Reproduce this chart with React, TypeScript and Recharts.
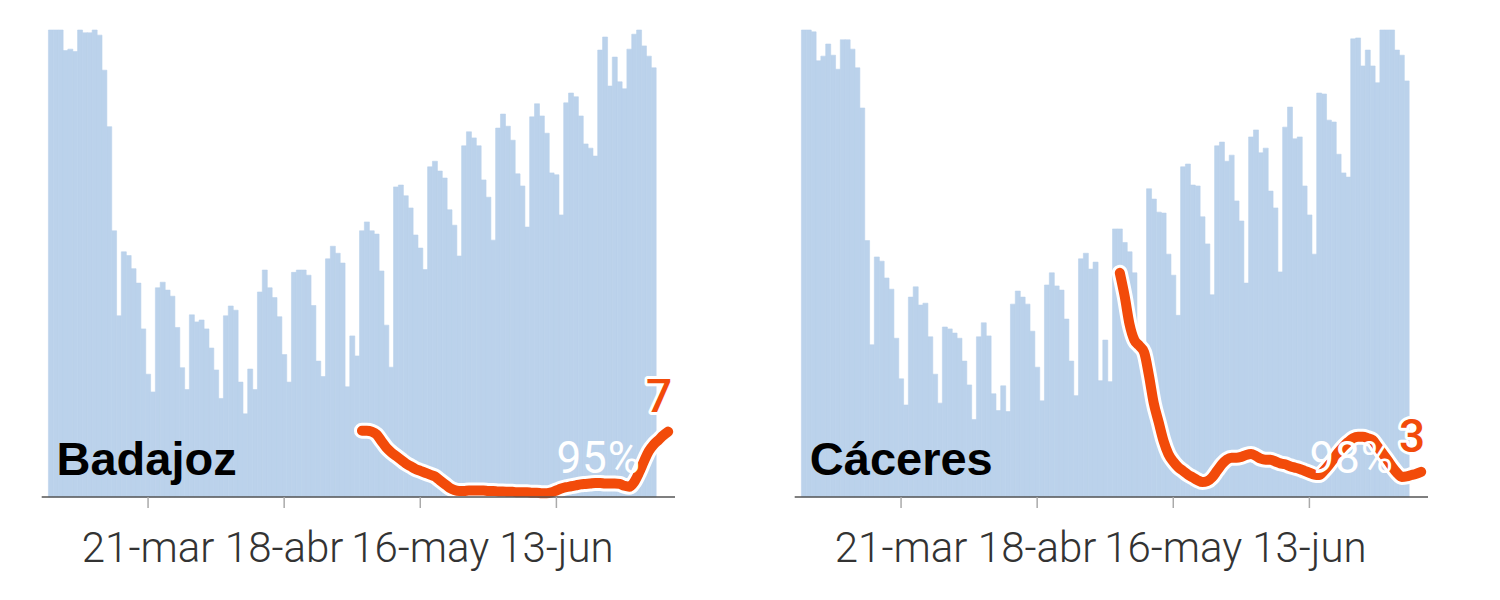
import React from 'react'
import { ComposedChart, Bar, Line, XAxis, YAxis } from 'recharts'

// day index 0 = 1-mar
const TICK_DAYS = [20, 48, 76, 104]
const TICK_LABELS = ['21-mar', '18-abr', '16-may', '13-jun']
const LAST_DAY = 127
const RECOVERY_DAY = 104

const PROVINCES = ['Badajoz', 'Cáceres']
const RECOVERY = ['95%', '98%']

// mobility, % of the reference level
const BADAJOZ_MOBILITY = [
  100, 100, 100, 95.6, 95.9, 95.4, 100, 99.4, 99.4, 100, 98.9, 91.4, 79.3, 57.0, 38.8,
  52.5, 51.7, 48.9, 45.8, 36.0, 26.3, 22.5, 44.8, 46.0, 44.3, 43.0, 36.3, 27.7, 23.0,
  39.0, 37.5, 37.9, 36.0, 31.9, 27.2, 21.1, 38.8, 40.9, 40.0, 24.6, 17.8, 27.4, 23.0,
  43.9, 48.6, 44.8, 42.7, 38.6, 30.5, 24.6, 48.1, 48.6, 48.6, 47.5, 41.0, 29.1, 25.8,
  51.0, 53.7, 52.2, 50.1, 23.6, 34.5, 30.2, 57.0, 58.9, 57.0, 56.3, 48.4, 36.8, 27.8,
  66.4, 66.8, 64.5, 61.9, 56.1, 53.3, 48.7, 70.7, 71.9, 69.8, 68.3, 61.5, 58.2, 51.6,
  75.2, 78.2, 76.9, 75.2, 67.9, 64.2, 55.0, 79.0, 82.0, 79.4, 76.4, 69.2, 66.6, 57.8,
  81.4, 84.2, 81.6, 77.9, 69.4, 69.0, 60.4, 84.4, 86.5, 85.7, 81.6, 75.6, 74.7, 73.0,
  95.7, 98.5, 88.0, 94.2, 88.9, 87.4, 95.9, 99.1, 100, 96.6, 94.4, 91.9,
]
const CACERES_MOBILITY = [
  100, 100, 99.6, 93.4, 94.4, 97.0, 94.6, 91.6, 97.9, 97.9, 95.9, 91.9, 83.3, 54.9, 32.6,
  51.4, 50.5, 46.9, 44.5, 34.0, 25.3, 19.7, 42.8, 45.0, 41.1, 41.5, 34.3, 26.3, 20.1,
  36.4, 36.0, 35.1, 34.0, 29.1, 24.0, 16.6, 34.3, 37.3, 34.5, 22.1, 18.5, 23.8, 18.3,
  41.3, 44.1, 42.8, 41.3, 35.5, 27.8, 20.6, 45.4, 48.0, 45.2, 44.3, 38.1, 29.1, 21.7,
  51.0, 52.2, 48.8, 50.3, 24.9, 33.6, 24.7, 57.4, 57.4, 54.5, 52.5, 48.0, 33.0, 28.0,
  66.0, 63.8, 61.0, 60.8, 52.0, 47.5, 38.9, 70.7, 71.3, 66.8, 66.6, 60.0, 54.2, 43.3,
  75.2, 76.0, 71.9, 73.2, 63.4, 59.1, 45.8, 77.1, 78.6, 73.7, 74.7, 65.5, 61.9, 48.2,
  79.2, 83.5, 76.7, 77.1, 66.6, 60.4, 52.0, 86.5, 86.3, 80.7, 80.3, 73.4, 69.4, 68.5,
  98.1, 98.3, 92.3, 95.7, 92.3, 88.7, 100, 100, 100, 95.7, 94.6, 89.1,
]

// new cases, 7-day average
const BADAJOZ_CASES_START = 64
const BADAJOZ_CASES = [
  7.1, 7.1, 7.0, 6.7, 6.0, 5.3, 4.8, 4.4, 4.0, 3.6,
  3.3, 3.0, 2.8, 2.6, 2.4, 2.2, 1.8, 1.4, 1.0, 0.75,
  0.65, 0.65, 0.7, 0.7, 0.7, 0.7, 0.65, 0.65, 0.6, 0.6,
  0.55, 0.55, 0.5, 0.5, 0.5, 0.45, 0.45, 0.4, 0.4, 0.5,
  0.7, 0.9, 1.05, 1.15, 1.25, 1.35, 1.4, 1.45, 1.5, 1.5,
  1.45, 1.45, 1.45, 1.4, 1.2, 1.1, 1.6, 2.6, 3.8, 4.9,
  5.6, 6.1, 6.6, 7.0,
]
const CACERES_CASES_START = 65
const CACERES_CASES = [
  24.0, 21.5, 18.5, 16.8, 16.2, 15.5, 13.0, 10.0, 8.0, 6.0,
  4.6, 3.8, 3.2, 2.8, 2.4, 2.1, 1.8, 1.6, 1.7, 2.1,
  2.8, 3.5, 4.0, 4.2, 4.2, 4.3, 4.5, 4.6, 4.4, 4.1,
  4.0, 4.0, 3.8, 3.6, 3.5, 3.3, 3.15, 3.0, 2.8, 2.6,
  2.4, 2.35, 2.8, 3.4, 4.1, 4.8, 5.4, 5.9, 6.3, 6.45,
  6.45, 6.3, 6.1, 5.4, 4.7, 4.0, 3.25, 2.6, 2.15, 2.2,
  2.35, 2.5, 2.7,
]

const BLUE = '#bbd2eb'
const ORANGE = '#f24b0a'

function Panel({ name, bars, cases, casesStart, pct }: any) {
  const rows: any[] = []
  for (let i = 0; i <= LAST_DAY; i++) {
    rows.push({
      day: i,
      movilidad: i < bars.length ? bars[i] : null,
      casos: i >= casesStart ? cases[i - casesStart] : null,
      marca: i === RECOVERY_DAY ? 0 : null,
    })
  }

  const pctDot = (p: any) => {
    if (p.value == null || p.cx == null) return <g key={`p-${p.index}`} />
    return (
      <text key={`p-${p.index}`} x={p.cx} y={p.cy - 24} fill="#fff" fontSize={44}
        letterSpacing={1} fontFamily="Roboto, sans-serif" textAnchor="start">
        {pct}
      </text>
    )
  }

  const endDot = (p: any) => {
    if (p.index !== rows.length - 1 || p.value == null) return <g key={`e-${p.index}`} />
    return (
      <text key={`e-${p.index}`} x={p.cx + 4} y={p.cy - 20} fill={ORANGE} stroke="#fff"
        strokeWidth={6} strokeLinejoin="round" paintOrder="stroke" fontSize={46}
        fontWeight={500} fontFamily="Roboto, sans-serif" textAnchor="end">
        {Math.round(p.value)}
      </text>
    )
  }

  return (
    <div style={{ position: 'relative', width: 750, height: 600 }}>
      <ComposedChart width={750} height={600} data={rows} barCategoryGap={0} barGap={0}
        margin={{ top: 30, right: 75, bottom: 0, left: 41.7 }}>
        <XAxis dataKey="day" type="number" domain={[-1.88, 128.4]} allowDataOverflow
          ticks={TICK_DAYS} interval={0}
          tickFormatter={(d: number) => TICK_LABELS[TICK_DAYS.indexOf(d)]}
          height={103} tickSize={11} tickMargin={24}
          axisLine={{ stroke: '#555', strokeWidth: 1.5 }}
          tickLine={{ stroke: '#aaa', strokeWidth: 1.5 }}
          tick={{ fill: '#333', fontSize: 42, fontFamily: 'Roboto, sans-serif', fontWeight: 300 }} />
        <YAxis yAxisId="mov" domain={[0, 100]} hide />
        <YAxis yAxisId="casos" orientation="right" domain={[0, 50]} hide />
        <Bar yAxisId="mov" dataKey="movilidad" fill={BLUE} stroke={BLUE} strokeWidth={0.6}
          isAnimationActive={false} />
        <Line yAxisId="mov" dataKey="marca" stroke="none" dot={pctDot} activeDot={false}
          isAnimationActive={false} />
        <Line yAxisId="casos" type="monotone" dataKey="casos" stroke="#fff" strokeWidth={16}
          strokeLinecap="round" strokeLinejoin="round" dot={false} activeDot={false}
          isAnimationActive={false} />
        <Line yAxisId="casos" type="monotone" dataKey="casos" stroke={ORANGE} strokeWidth={10}
          strokeLinecap="round" strokeLinejoin="round" dot={endDot} activeDot={false}
          isAnimationActive={false} />
      </ComposedChart>
      <div style={{
        position: 'absolute', left: 56.5, top: 435, fontSize: 47, lineHeight: '47px',
        fontWeight: 700, fontFamily: '"Liberation Sans", Arial, sans-serif', color: '#000',
      }}>
        {name}
      </div>
    </div>
  )
}

export default function App() {
  return (
    <div style={{ position: 'absolute', left: 0, top: 0, width: 1500, height: 600, background: '#fff' }}>
      <div style={{ position: 'absolute', left: 0, top: 0 }}>
        <Panel name={PROVINCES[0]} bars={BADAJOZ_MOBILITY} cases={BADAJOZ_CASES}
          casesStart={BADAJOZ_CASES_START} pct={RECOVERY[0]} />
      </div>
      <div style={{ position: 'absolute', left: 753.3, top: 0 }}>
        <Panel name={PROVINCES[1]} bars={CACERES_MOBILITY} cases={CACERES_CASES}
          casesStart={CACERES_CASES_START} pct={RECOVERY[1]} />
      </div>
    </div>
  )
}
